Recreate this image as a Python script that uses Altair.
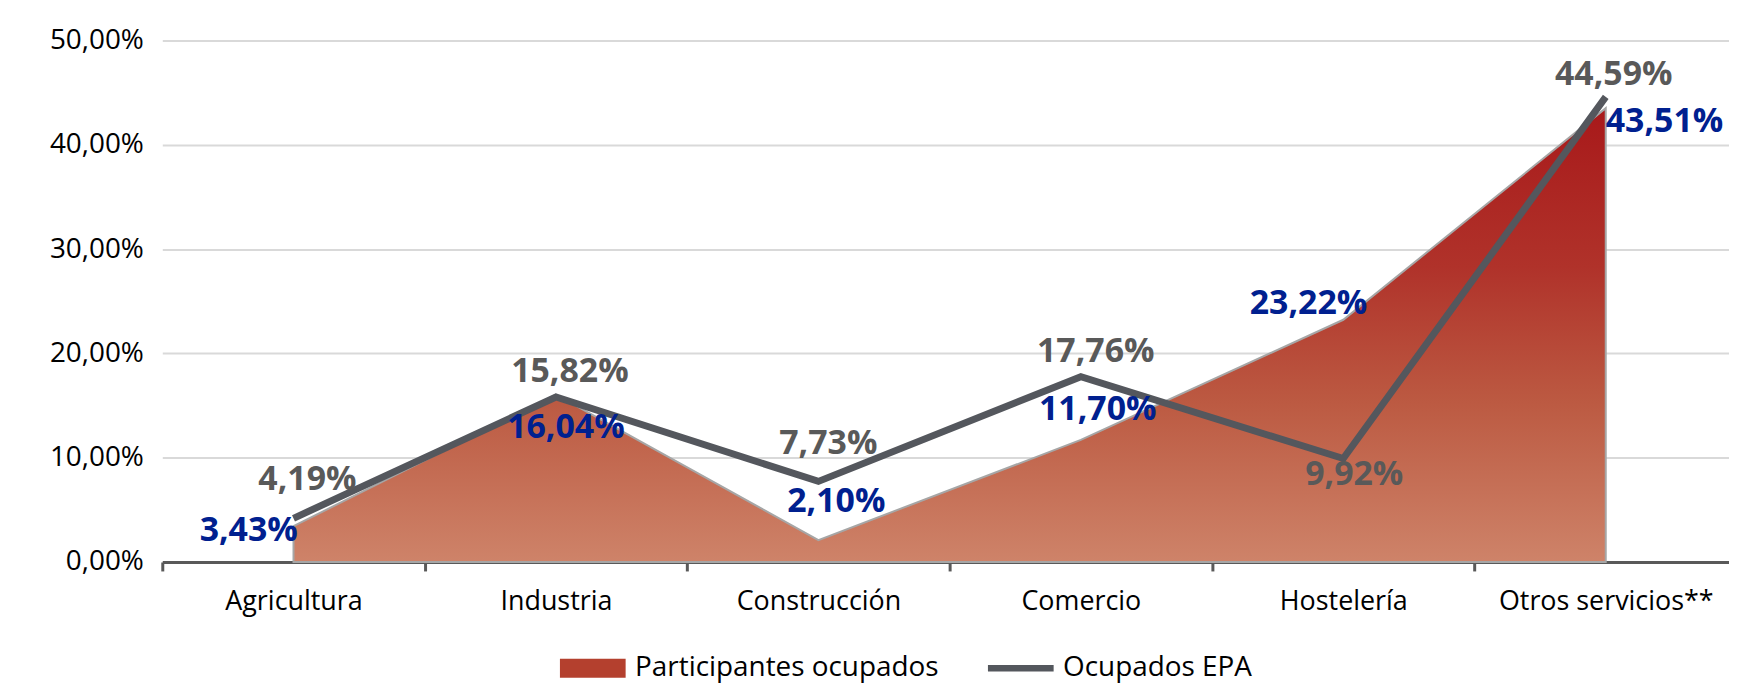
import altair as alt
import pandas as pd

categories = ["Agricultura", "Industria", "Construcción", "Comercio", "Hostelería", "Otros servicios**"]
participantes = [3.43, 16.04, 2.10, 11.70, 23.22, 43.51]
ocupados_epa = [4.19, 15.82, 7.73, 17.76, 9.92, 44.59]
series_names = ["Participantes ocupados", "Ocupados EPA"]
y_ticks = [0, 10, 20, 30, 40, 50]

# label placement (pixel offsets of each data label from its point)
ocu_label_dx = [14, 14, 10, 15, 11, 8]
ocu_label_dy = [-38, -25, -37, -25, 17, -22]
part_label_dx = [-45, 10, 18, 17, -35, 59]
part_label_dy = [5, 34, -38, -30, -16, 14]

df = pd.DataFrame({
    "cat": categories,
    "part": participantes,
    "ocu": ocupados_epa,
    "odx": ocu_label_dx,
    "ody": ocu_label_dy,
    "pdx": part_label_dx,
    "pdy": part_label_dy,
})
legend_df = pd.DataFrame({"serie": series_names})

FONT = "Open Sans"
fmt = "replace(format({v}, '.2f'), '.', ',') + '%'"

x_enc = alt.X(
    "cat:N", sort=categories, bandPosition=0.5,
    scale=alt.Scale(type="band", paddingInner=0, paddingOuter=0, range=[0, 1582]),
    axis=alt.Axis(title=None, labelAngle=0, tickBand="extent", grid=False,
                  domainColor="#595959", domainWidth=3, tickColor="#595959",
                  tickWidth=3, tickSize=9, labelPadding=18, labelFont=FONT,
                  labelFontSize=27, labelColor="#000000", labelLimit=0),
)
y_scale = alt.Scale(domain=[0, 50], nice=False)
y_axis = alt.Axis(title=None, values=y_ticks, domain=False, ticks=False,
                  labelExpr=fmt.format(v="datum.value"), labelPadding=19,
                  gridColor="#D9D9D9", gridWidth=2, labelFont=FONT,
                  labelFontSize=28, labelColor="#000000", labelLimit=0)

gradient = {
    "gradient": "linear", "x1": 0, "y1": 0, "x2": 0, "y2": 1,
    "stops": [
        {"offset": 0, "color": "#A8191A"},
        {"offset": 0.35, "color": "#B0322A"},
        {"offset": 0.65, "color": "#BC5A42"},
        {"offset": 1, "color": "#CE8369"},
    ],
}

area = alt.Chart(df).mark_area(
    fill=gradient, stroke="#A6A6A6", strokeWidth=2, interpolate="linear"
).encode(x=x_enc, y=alt.Y("part:Q", scale=y_scale, axis=y_axis))

line = alt.Chart(df).mark_line(
    color="#54575D", strokeWidth=7, strokeJoin="miter", strokeCap="butt"
).encode(x=x_enc, y=alt.Y("ocu:Q", scale=y_scale, axis=y_axis))

ocu_text = alt.Chart(df).transform_calculate(
    lab=fmt.format(v="datum.ocu")
).mark_text(
    font=FONT, fontSize=34, fontWeight="bold", color="#595959",
    align="center", baseline="middle",
    dx=alt.ExprRef(expr="datum.odx"), dy=alt.ExprRef(expr="datum.ody"),
).encode(x=x_enc, y=alt.Y("ocu:Q", scale=y_scale, axis=y_axis), text="lab:N")

part_text = alt.Chart(df).transform_calculate(
    lab=fmt.format(v="datum.part")
).mark_text(
    font=FONT, fontSize=34, fontWeight="bold", color="#00208F",
    align="center", baseline="middle",
    dx=alt.ExprRef(expr="datum.pdx"), dy=alt.ExprRef(expr="datum.pdy"),
).encode(x=x_enc, y=alt.Y("part:Q", scale=y_scale, axis=y_axis), text="lab:N")

leg = alt.Legend(
    orient="none", legendX=399, legendY=597, direction="horizontal", title=None,
    symbolSize=4356, symbolOpacity=1, symbolStrokeColor="#A6A6A6",
    symbolStrokeWidth=1, labelFont=FONT, labelFontSize=28, labelColor="#000000",
    labelOffset=9, columnPadding=47, labelLimit=0,
)
legend_layer = alt.Chart(legend_df).mark_point(filled=True, opacity=0).encode(
    color=alt.Color("serie:N", sort=series_names,
                    scale=alt.Scale(domain=series_names, range=["#B4402E", "#54575D"]),
                    legend=leg),
    shape=alt.Shape("serie:N", sort=series_names,
                    scale=alt.Scale(domain=series_names,
                                    range=["M-1,-0.29H1V0.29H-1Z", "M-1,-0.1H1V0.1H-1Z"]),
                    legend=leg),
)

chart = alt.layer(area, line, ocu_text, part_text, legend_layer).properties(
    width=1566, height=524,
    autosize=alt.AutoSizeParams(type="none"),
    padding={"left": 155, "top": 31, "right": 8, "bottom": 122},
).configure(font=FONT).configure_view(stroke=None)

chart.save("out.html", embed_options={"renderer": "svg", "actions": False})
